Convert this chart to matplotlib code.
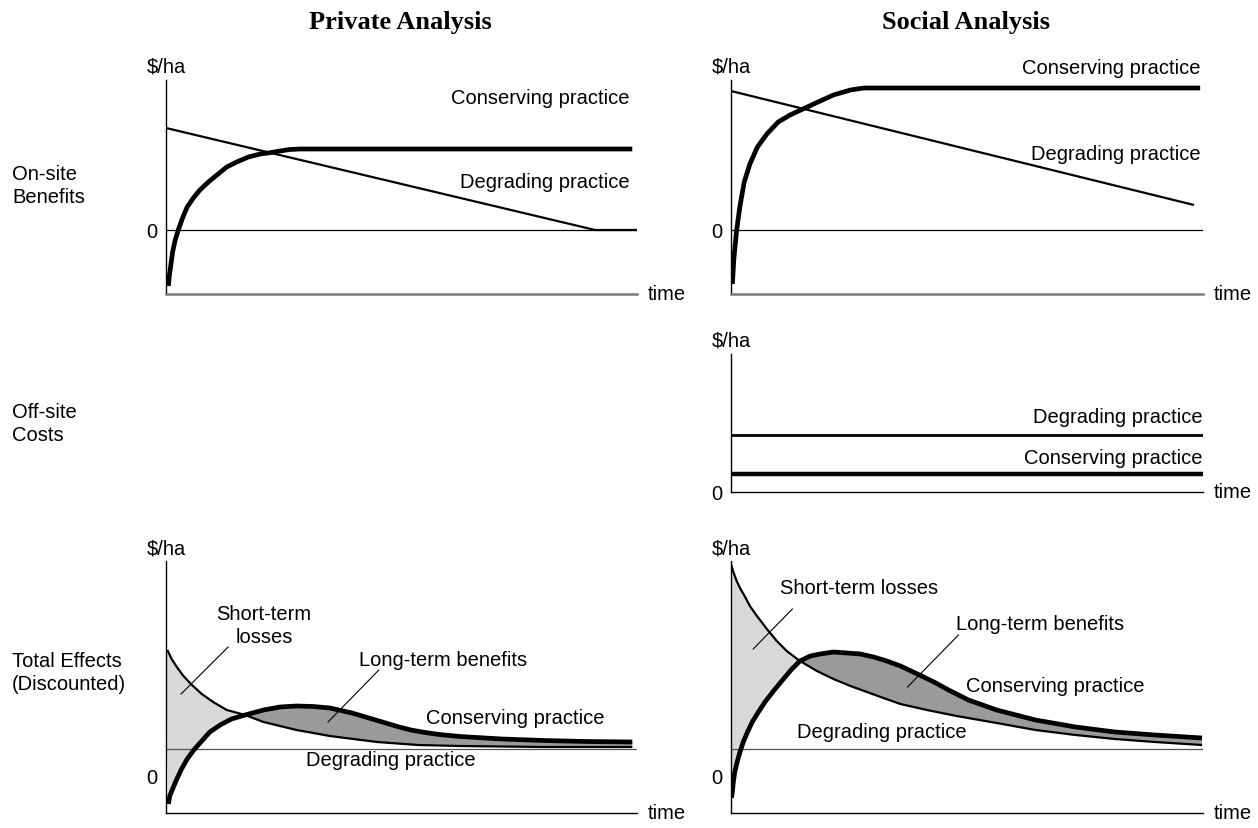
import numpy as np
import matplotlib
matplotlib.use("Agg")
import matplotlib.pyplot as plt

plt.rcParams['font.family'] = ['Liberation Sans', 'DejaVu Sans']

# ---- values (time 0..100, $/ha in arbitrary units) ----
# On-site benefits, private
priv_cons_t = [0.5, 0.7, 1.0, 1.4, 1.9, 2.6, 3.6, 4.5, 5.8, 7.2, 9.0, 10.8, 12.9, 15.0,
               17.5, 20.0, 21.7, 24.2, 26.3, 28.5, 99.0]
priv_cons_v = [-5.6, -4.6, -3.6, -2.2, -1.1, 0.0, 1.3, 2.3, 3.2, 4.0, 4.8, 5.5, 6.3, 6.8,
               7.3, 7.6, 7.7, 7.9, 8.05, 8.1, 8.1]
priv_degr_t = [0, 91.1, 100]
priv_degr_v = [10.2, 0.0, 0.0]

# On-site benefits, social
soc_cons_t = [0.3, 0.6, 1.2, 1.9, 2.8, 4.0, 5.6, 7.6, 10.0, 12.5, 15.7, 18.9, 21.7, 25.3,
              28.1, 99.4]
soc_cons_v = [-5.4, -2.9, 0.0, 2.4, 4.8, 6.6, 8.3, 9.6, 10.8, 11.5, 12.2, 12.9, 13.5, 14.0,
              14.2, 14.2]
soc_degr_t = [0, 98.1]
soc_degr_v = [13.9, 2.5]

# Off-site costs, social
off_t = [0, 100]
off_degr_v = [5.7, 5.7]
off_cons_v = [1.8, 1.8]

# Total effects (discounted), private
tot_priv_degr_t = [0.3, 1.2, 2.3, 3.7, 5.5, 7.6, 10.0, 12.9, 16.8, 20.7, 24.2, 27.7, 31.3,
                   34.8, 44.8, 53.5, 62.4, 80.3, 99.0]
tot_priv_degr_v = [12.6, 11.7, 10.9, 10.0, 9.1, 8.2, 7.4, 6.6, 6.1, 5.4, 5.0, 4.6, 4.3,
                   4.0, 3.4, 3.1, 3.0, 2.9, 2.9]
tot_priv_cons_t = [0.5, 0.8, 1.4, 2.3, 3.3, 4.5, 5.9, 7.6, 9.3, 11.5, 13.9, 16.8, 20.7,
                   24.2, 27.7, 31.3, 34.8, 36.7, 39.5, 42.0, 44.5, 47.0, 49.5, 52.0, 55.0,
                   58.0, 62.4, 71.3, 80.3, 89.2, 99.0]
tot_priv_cons_v = [-2.8, -2.0, -1.3, -0.3, 0.7, 1.7, 2.6, 3.5, 4.4, 5.1, 5.7, 6.1, 6.6,
                   6.9, 7.0, 6.95, 6.8, 6.6, 6.3, 5.95, 5.6, 5.25, 4.9, 4.6, 4.35,
                   4.15, 3.95, 3.7, 3.55, 3.45, 3.4]

# Total effects (discounted), social
tot_soc_degr_t = [0, 0.5, 1.2, 1.9, 3.0, 4.0, 5.5, 7.6, 9.7, 11.8, 14.6, 18.2, 21.7, 25.3,
                  28.8, 32.3, 35.9, 41.5, 47.8, 56.3, 64.5, 73.0, 81.3, 89.8, 99.8]
tot_soc_degr_v = [21.2, 20.4, 19.5, 18.8, 17.9, 17.0, 16.0, 14.7, 13.5, 12.5, 11.5, 10.5,
                  9.7, 9.0, 8.4, 7.8, 7.2, 6.6, 6.0, 5.3, 4.6, 4.1, 3.7, 3.4, 3.1]
tot_soc_cons_t = [0.1, 0.3, 0.5, 0.8, 1.3, 1.9, 2.6, 3.5, 4.5, 5.8, 7.2, 9.0, 11.1, 12.9,
                  14.6, 16.8, 18.9, 21.7, 24.6, 27.4, 30.2, 33.0, 35.9, 39.5, 43.0, 46.1,
                  50.3, 56.3, 64.5, 73.0, 81.3, 89.8, 99.8]
tot_soc_cons_v = [-2.2, -1.5, -0.6, 0.4, 1.4, 2.4, 3.4, 4.4, 5.4, 6.4, 7.4, 8.5, 9.7, 10.7,
                  11.5, 12.0, 12.2, 12.4, 12.3, 12.2, 11.9, 11.5, 11.0, 10.2, 9.4, 8.6,
                  7.6, 6.6, 5.6, 4.9, 4.4, 4.1, 3.8]
tot_base_v = 2.7   # thin horizontal reference line in the bottom panels

W, H = 1258, 829
FS = 14.5
LIGHT = '#d9d9d9'
DARK = '#9a9a9a'


def make_axes(fig, left, right, top, bottom, ylim):
    """axes placed by pixel box of the plotting area"""
    ax = fig.add_axes([left / W, 1 - bottom / H, (right - left) / W, (bottom - top) / H])
    ax.set_xlim(0, 100)
    ax.set_ylim(*ylim)
    for s in ['top', 'right']:
        ax.spines[s].set_visible(False)
    ax.spines['left'].set_linewidth(1.0)
    ax.spines['bottom'].set_color('#7a7a7a')
    ax.spines['bottom'].set_linewidth(1.8)
    ax.set_xticks([])
    ax.set_yticks([0])
    ax.set_yticklabels(['0'], fontsize=FS)
    ax.tick_params(axis='y', length=0, pad=6)
    ax.patch.set_alpha(0)
    ax.annotate('$/ha', xy=(0, 1), xycoords='axes fraction', xytext=(0, 4),
                textcoords='offset pixels', ha='center', va='bottom', fontsize=FS)
    ax.annotate('time', xy=(1, 0), xycoords='axes fraction', xytext=(11, 0),
                textcoords='offset pixels', ha='left', va='center', fontsize=FS)
    return ax


def split_at_cross(t_a, v_a, t_b, v_b, t_cross):
    """polygon vertices between two curves, before and after their crossing"""
    ta, va, tb, vb = map(np.asarray, (t_a, v_a, t_b, v_b))
    ma, mb = ta <= t_cross, tb <= t_cross
    early = (np.concatenate([ta[ma], tb[mb][::-1]]), np.concatenate([va[ma], vb[mb][::-1]]))
    ma, mb = ta >= t_cross, tb >= t_cross
    late = (np.concatenate([ta[ma], tb[mb][::-1]]), np.concatenate([va[ma], vb[mb][::-1]]))
    return early, late


def draw_curve(ax, t, v, lw):
    ax.plot(t, v, color='black', lw=lw, solid_joinstyle='round', solid_capstyle='butt')


fig = plt.figure(figsize=(W / 100, H / 100), dpi=100)

# titles
fig.text(400 / W, 1 - 23 / H, 'Private Analysis', family='Liberation Serif', weight='bold',
         fontsize=19, ha='center', va='center')
fig.text(966 / W, 1 - 23 / H, 'Social Analysis', family='Liberation Serif', weight='bold',
         fontsize=19, ha='center', va='center')

# row labels
fig.text(12 / W, 1 - 186 / H, 'On-site\nBenefits', fontsize=FS, ha='left', va='center',
         linespacing=1.25)
fig.text(12 / W, 1 - 424 / H, 'Off-site\nCosts', fontsize=FS, ha='left', va='center',
         linespacing=1.25)
fig.text(12 / W, 1 - 673 / H, 'Total Effects\n(Discounted)', fontsize=FS, ha='left',
         va='center', linespacing=1.25)

# ---- on-site, private ----
ax = make_axes(fig, 166, 637, 81, 295, (-6.4, 15))
ax.axhline(0, color='black', lw=0.9)
draw_curve(ax, priv_degr_t, priv_degr_v, 1.6)
draw_curve(ax, priv_cons_t, priv_cons_v, 3.4)
ax.text(98.5, 13.3, 'Conserving practice', ha='right', va='center', fontsize=FS)
ax.text(98.5, 4.9, 'Degrading practice', ha='right', va='center', fontsize=FS)

# ---- on-site, social ----
ax = make_axes(fig, 731, 1203, 81, 295, (-6.4, 15))
ax.axhline(0, color='black', lw=0.9)
draw_curve(ax, soc_degr_t, soc_degr_v, 1.6)
draw_curve(ax, soc_cons_t, soc_cons_v, 3.4)
ax.text(99.4, 16.2, 'Conserving practice', ha='right', va='center', fontsize=FS,
        clip_on=False)
ax.text(99.4, 7.6, 'Degrading practice', ha='right', va='center', fontsize=FS)

# ---- off-site, social ----
ax = make_axes(fig, 731, 1203, 355, 493, (0, 13.8))
ax.spines['bottom'].set_color('black')
ax.spines['bottom'].set_linewidth(1.0)
draw_curve(ax, off_t, off_degr_v, 2.0)
draw_curve(ax, off_t, off_cons_v, 3.2)
ax.text(100, 7.5, 'Degrading practice', ha='right', va='center', fontsize=FS)
ax.text(100, 3.4, 'Conserving practice', ha='right', va='center', fontsize=FS)

# ---- total effects, private ----
ax = make_axes(fig, 166, 637, 562, 814, (-3.7, 21.5))
ax.spines['bottom'].set_color('black')
ax.spines['bottom'].set_linewidth(1.0)
early, late = split_at_cross(tot_priv_degr_t, tot_priv_degr_v,
                             tot_priv_cons_t, tot_priv_cons_v, 16.8)
ax.fill(np.r_[0, early[0]], np.r_[tot_priv_degr_v[0], early[1]], color=LIGHT, lw=0)
ax.fill(*late, color=DARK, lw=0)
ax.axhline(tot_base_v, color='#555555', lw=0.9)
draw_curve(ax, tot_priv_degr_t, tot_priv_degr_v, 1.6)
draw_curve(ax, tot_priv_cons_t, tot_priv_cons_v, 3.4)
ax.text(20.8, 15.1, 'Short-term\nlosses', ha='center', va='center', fontsize=FS,
        linespacing=1.25)
ax.plot([13.2, 3.2], [12.9, 8.2], color='black', lw=0.8)
ax.text(58.8, 11.7, 'Long-term benefits', ha='center', va='center', fontsize=FS)
ax.plot([45.2, 34.4], [10.6, 5.4], color='black', lw=0.8)
ax.text(74.1, 5.8, 'Conserving practice', ha='center', va='center', fontsize=FS)
ax.text(47.8, 1.6, 'Degrading practice', ha='center', va='center', fontsize=FS)

# ---- total effects, social ----
ax = make_axes(fig, 731, 1203, 562, 814, (-3.7, 21.5))
ax.spines['bottom'].set_color('black')
ax.spines['bottom'].set_linewidth(1.0)
early, late = split_at_cross(tot_soc_degr_t, tot_soc_degr_v,
                             tot_soc_cons_t, tot_soc_cons_v, 14.6)
ax.fill(np.r_[0, early[0]], np.r_[tot_soc_degr_v[0], early[1]], color=LIGHT, lw=0)
ax.fill(*late, color=DARK, lw=0)
ax.axhline(tot_base_v, color='#555555', lw=0.9)
draw_curve(ax, tot_soc_degr_t, tot_soc_degr_v, 1.6)
draw_curve(ax, tot_soc_cons_t, tot_soc_cons_v, 3.4)
ax.text(27.2, 18.9, 'Short-term losses', ha='center', va='center', fontsize=FS)
ax.plot([13.0, 4.7], [16.7, 12.7], color='black', lw=0.8)
ax.text(65.4, 15.2, 'Long-term benefits', ha='center', va='center', fontsize=FS)
ax.plot([48.2, 37.4], [14.1, 8.9], color='black', lw=0.8)
ax.text(68.8, 9.1, 'Conserving practice', ha='center', va='center', fontsize=FS)
ax.text(31.9, 4.4, 'Degrading practice', ha='center', va='center', fontsize=FS)

fig.savefig('out.png', dpi=100)
